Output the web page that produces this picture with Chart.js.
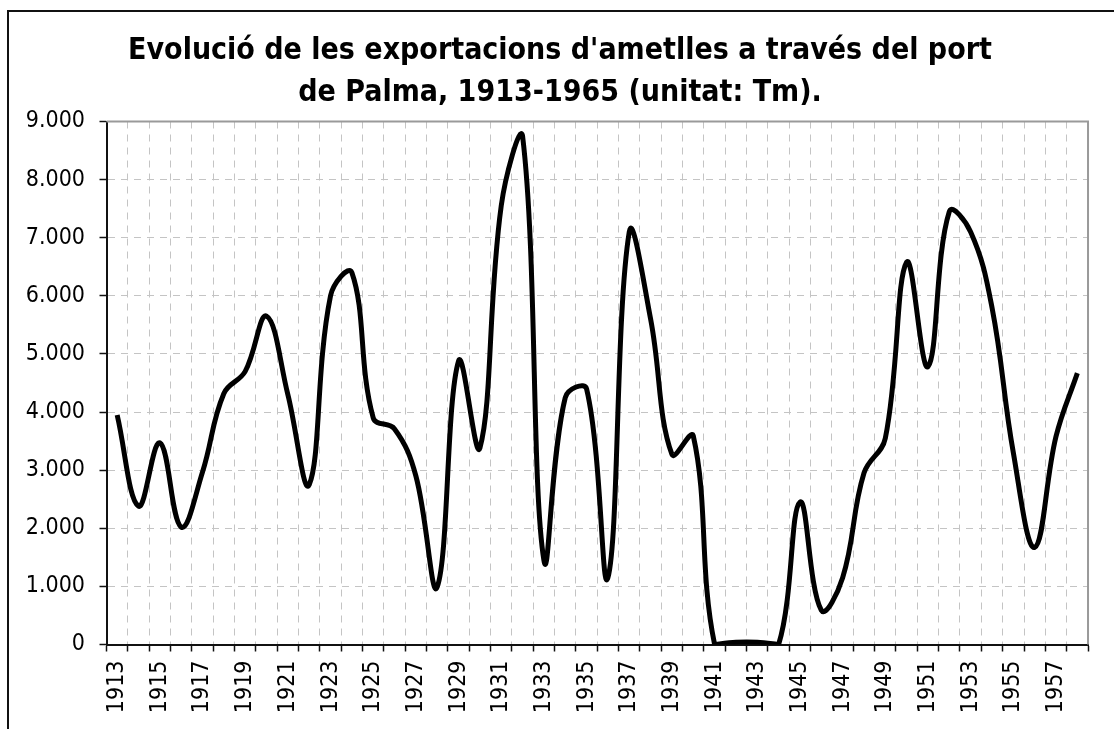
<!DOCTYPE html>
<html>
<head>
<meta charset="utf-8">
<script src="https://cdn.jsdelivr.net/npm/chart.js@4/dist/chart.umd.min.js"></script>
<style>
html,body{margin:0;padding:0;background:#fff;width:1114px;height:729px;overflow:hidden;}
#frame{position:absolute;left:7px;top:10px;width:1200px;height:800px;border-left:2px solid #111;border-top:2px solid #111;}
#wrap{position:absolute;left:0;top:0;width:1114px;height:729px;}
</style>
</head>
<body>
<div id="frame"></div>
<div id="wrap"><canvas id="c" width="1114" height="729"></canvas></div>
<script>
const years = ['1913','1914','1915','1916','1917','1918','1919','1920','1921','1922',
  '1923','1924','1925','1926','1927','1928','1929','1930','1931','1932',
  '1933','1934','1935','1936','1937','1938','1939','1940','1941','1942',
  '1943','1944','1945','1946','1947','1948','1949','1950','1951','1952',
  '1953','1954','1955','1956','1957','1958'];
const exportsTm = [3950,2380,3470,2020,2970,4320,4700,5650,4300,2750,
  6000,6400,3900,3710,2900,990,4880,3380,7550,8750,
  1450,4250,4400,1150,7100,5600,3270,3590,0,40,
  40,0,2450,590,1150,2950,3550,6580,4780,7450,
  7100,5800,3300,1670,3580,4670];
const titleLines = ["Evolució de les exportacions d'ametlles a través del port",
  "de Palma, 1913-1965 (unitat: Tm)."];
const yMin = 0, yMax = 9000, yStep = 1000;

function fmtThousands(v){
  return String(v).replace(/\B(?=(\d{3})+(?!\d))/g, '.');
}

const plotBorder = {
  id: 'plotBorder',
  beforeDatasetsDraw(chart){
    const {ctx, chartArea: a} = chart;
    ctx.save();
    ctx.strokeStyle = '#9a9a9a';
    ctx.lineWidth = 2;
    ctx.beginPath();
    ctx.moveTo(a.left, a.top);
    ctx.lineTo(a.right, a.top);
    ctx.lineTo(a.right, a.bottom);
    ctx.stroke();
    ctx.restore();
  }
};

new Chart(document.getElementById('c'), {
  type: 'line',
  data: {
    labels: years,
    datasets: [{
      data: exportsTm,
      borderColor: '#000',
      borderWidth: 5,
      pointRadius: 0,
      tension: 0.4,
      fill: false
    }]
  },
  options: {
    responsive: false,
    animation: false,
    devicePixelRatio: 1,
    layout: { padding: { top: 30, left: 10.5, right: 4.5, bottom: 0 } },
    plugins: {
      legend: { display: false },
      tooltip: { enabled: false },
      title: {
        display: true,
        text: titleLines,
        color: '#000',
        font: { family: 'DejaVu Sans Condensed', weight: 'bold', size: 30, lineHeight: 1.4 },
        padding: { top: 0, bottom: 7.5 }
      }
    },
    scales: {
      x: {
        type: 'category',
        offset: true,
        afterFit(s){ s.height = 84.5; },
        grid: { offset: true, color: '#c4c4c4', lineWidth: 1, tickColor: '#111', tickLength: 7, tickWidth: 1.5 },
        border: { display: true, color: '#111', width: 2, dash: [7,6] },
        ticks: {
          autoSkip: false, maxRotation: 90, minRotation: 90, padding: 9,
          color: '#000',
          font: { family: 'DejaVu Sans Condensed', size: 23 },
          callback(v, i){ return i % 2 === 0 ? years[i] : ''; }
        }
      },
      y: {
        min: yMin, max: yMax,
        afterFit(s){ s.width = 96; },
        grid: { color: '#c4c4c4', lineWidth: 1, tickColor: '#111', tickLength: 7, tickWidth: 1.5 },
        border: { display: true, color: '#111', width: 2, dash: [7,6] },
        ticks: {
          stepSize: yStep, padding: 14.5, color: '#000',
          font: { family: 'DejaVu Sans Condensed', size: 23 },
          callback(v){ return fmtThousands(v); }
        }
      }
    }
  },
  plugins: [plotBorder]
});
</script>
</body>
</html>
